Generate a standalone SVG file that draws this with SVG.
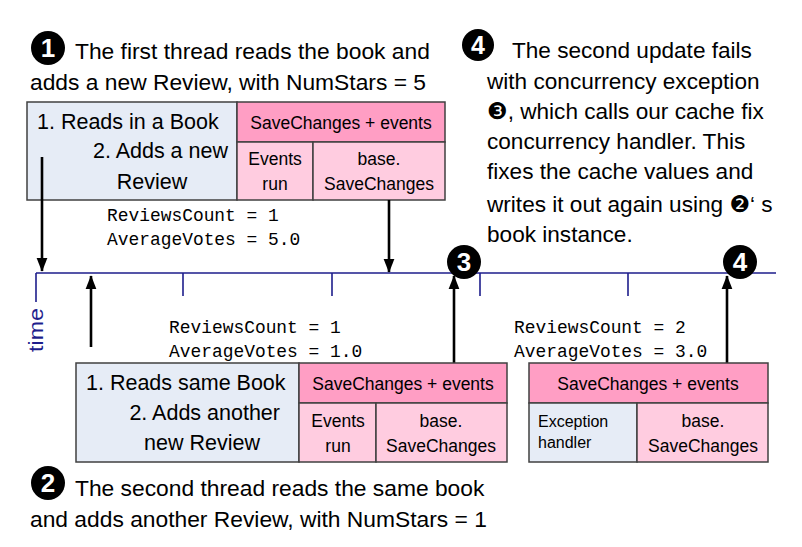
<svg xmlns="http://www.w3.org/2000/svg" width="802" height="547" viewBox="0 0 802 547">
<defs>
<marker id="ah" markerUnits="userSpaceOnUse" markerWidth="14" markerHeight="18" refX="17" refY="7" viewBox="0 0 18 14" orient="auto">
<path d="M0,0 L18,7 L0,14 Z" fill="#000"/>
</marker>
</defs>
<style>
text{font-family:"Liberation Sans",Arial,sans-serif;fill:#000}
.cap{font-size:22.8px}
.capr{font-size:22.6px}
.box{font-size:21.5px}
.sm{font-size:17.5px}
.xs{font-size:16px}
.code{font-family:"Liberation Mono","DejaVu Sans Mono",monospace;font-size:17.9px}
.mid{text-anchor:middle}
.end{text-anchor:end}
.blue{fill:#E6ECF6;stroke:#404040;stroke-width:1.5}
.hdr{fill:#FF9EC4;stroke:#404040;stroke-width:1.5}
.cell{fill:#FFCCE0;stroke:#404040;stroke-width:1.5}
.num{fill:#000}
.numt{font-family:"Liberation Sans",Arial,sans-serif;font-weight:bold;fill:#fff;text-anchor:middle}
.tl{stroke:#1E1E8C;stroke-width:1.6;fill:none}
.arr{stroke:#000;stroke-width:2.6;fill:none;marker-end:url(#ah)}
.dg{font-family:"DejaVu Sans",sans-serif}
</style>

<g id="caption1">
<circle class="num" cx="48" cy="48" r="17"/>
<text class="numt" x="48" y="57" font-size="26">1</text>
<text class="cap" x="75" y="59">The first thread reads the book and</text>
<text class="cap" x="30" y="90">adds a new Review, with NumStars = 5</text>
</g>

<g id="caption4">
<circle class="num" cx="478" cy="45" r="16"/>
<text class="numt" x="478" y="54" font-size="25">4</text>
<text class="capr" x="512" y="58">The second update fails</text>
<text class="capr" x="487" y="89">with concurrency exception</text>
<text class="capr" x="487" y="119"><tspan class="dg" font-size="23">❸</tspan>, which calls our cache fix</text>
<text class="capr" x="487" y="149">concurrency handler. This</text>
<text class="capr" x="487" y="179">fixes the cache values and</text>
<text class="capr" x="487" y="212">writes it out again using <tspan class="dg" font-size="23">❷</tspan>‘ s</text>
<text class="capr" x="487" y="242">book instance.</text>
</g>

<g id="thread1">
<rect class="blue" x="27" y="102" width="210" height="98"/>
<rect class="hdr" x="237" y="102" width="208" height="40"/>
<rect class="cell" x="237" y="142" width="76" height="58"/>
<rect class="cell" x="313" y="142" width="132" height="58"/>
<text class="box" x="37" y="129">1. Reads in a Book</text>
<text class="box end" x="228" y="158">2. Adds a new</text>
<text class="box mid" x="152" y="189">Review</text>
<text class="sm mid" x="341" y="129">SaveChanges + events</text>
<text class="sm mid" x="275" y="165">Events</text>
<text class="sm mid" x="275" y="190">run</text>
<text class="sm mid" x="379" y="165">base.</text>
<text class="sm mid" x="379" y="190">SaveChanges</text>
</g>

<g id="values1">
<text class="code" x="107" y="221">ReviewsCount = 1</text>
<text class="code" x="107" y="245">AverageVotes = 5.0</text>
</g>

<g id="timeline">
<path class="tl" d="M36,273 H776 M36,273 V302 M183,273 V296 M332,273 V296 M480,273 V296 M628,273 V296"/>
<text x="43" y="352" transform="rotate(-90 43 352)" font-size="21" textLength="44" lengthAdjust="spacingAndGlyphs" style="fill:#1E1E8C">time</text>
</g>

<g id="connectors">
<line class="arr" x1="42" y1="157" x2="42" y2="271"/>
<line class="arr" x1="389" y1="200" x2="389" y2="272"/>
<line class="arr" x1="91" y1="347" x2="91" y2="276"/>
<line class="arr" x1="454" y1="363" x2="454" y2="276"/>
<line class="arr" x1="727" y1="363" x2="727" y2="276"/>
</g>

<g id="marker3">
<circle class="num" cx="464" cy="262" r="17"/>
<text class="numt" x="464" y="271" font-size="26">3</text>
</g>

<g id="marker4">
<circle class="num" cx="740" cy="262" r="17"/>
<text class="numt" x="740" y="271" font-size="26">4</text>
</g>

<g id="values2">
<text class="code" x="169" y="333">ReviewsCount = 1</text>
<text class="code" x="169" y="357">AverageVotes = 1.0</text>
</g>

<g id="values3">
<text class="code" x="514" y="333">ReviewsCount = 2</text>
<text class="code" x="514" y="357">AverageVotes = 3.0</text>
</g>

<g id="thread2">
<rect class="blue" x="76" y="363" width="223" height="99"/>
<rect class="hdr" x="299" y="363" width="208" height="40"/>
<rect class="cell" x="299" y="403" width="77" height="59"/>
<rect class="cell" x="376" y="403" width="131" height="59"/>
<text class="box" x="86" y="390">1. Reads same Book</text>
<text class="box end" x="280" y="420">2. Adds another</text>
<text class="box mid" x="202" y="450">new Review</text>
<text class="sm mid" x="403" y="390">SaveChanges + events</text>
<text class="sm mid" x="338" y="427">Events</text>
<text class="sm mid" x="338" y="452">run</text>
<text class="sm mid" x="441" y="427">base.</text>
<text class="sm mid" x="441" y="452">SaveChanges</text>
</g>

<g id="retry">
<rect class="hdr" x="529" y="363" width="239" height="40"/>
<rect class="blue" x="529" y="403" width="108" height="59"/>
<rect class="cell" x="637" y="403" width="131" height="59"/>
<text class="sm mid" x="648" y="390">SaveChanges + events</text>
<text class="xs" x="538" y="427">Exception</text>
<text class="xs" x="538" y="448">handler</text>
<text class="sm mid" x="703" y="427">base.</text>
<text class="sm mid" x="703" y="452">SaveChanges</text>
</g>

<g id="caption2">
<circle class="num" cx="48" cy="483" r="17"/>
<text class="numt" x="48" y="492" font-size="26">2</text>
<text class="cap" x="75" y="496">The second thread reads the same book</text>
<text class="cap" x="30" y="527">and adds another Review, with NumStars = 1</text>
</g>
</svg>
